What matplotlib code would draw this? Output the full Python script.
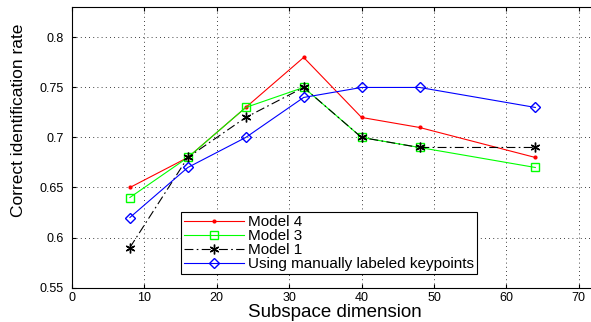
import numpy as np
import matplotlib
matplotlib.use("Agg")
import matplotlib.pyplot as plt

dims = [8, 16, 24, 32, 40, 48, 64]
model4 = [0.65, 0.68, 0.73, 0.78, 0.72, 0.71, 0.68]
model3 = [0.64, 0.68, 0.73, 0.75, 0.70, 0.69, 0.67]
model1 = [0.59, 0.68, 0.72, 0.75, 0.70, 0.69, 0.69]
manual = [0.62, 0.67, 0.70, 0.74, 0.75, 0.75, 0.73]

xticks = [0, 10, 20, 30, 40, 50, 60, 70]
yticks = [0.55, 0.6, 0.65, 0.7, 0.75, 0.8]
ytick_labels = ["0.55", "0.6", "0.65", "0.7", "0.75", "0.8"]

plt.rcParams['font.family'] = ['Liberation Sans', 'DejaVu Sans']

fig = plt.figure(figsize=(5.91, 3.22), dpi=100)
ax = fig.add_axes([0.1218, 0.107, 0.89, 0.87])

ax.plot(dims, model4, color='red', marker='.', markersize=4, linewidth=0.8, label='Model 4')
ax.plot(dims, model3, color='lime', marker='s', markersize=6, markerfacecolor='none',
        linewidth=0.8, label='Model 3')
ax.plot(dims, model1, color='black', marker=(6, 2, 0), markersize=7, markeredgewidth=1.0,
        linestyle=(0, (8, 3, 1.5, 3)), linewidth=0.8, label='Model 1')
ax.plot(dims, manual, color='blue', marker='D', markersize=5.5, markerfacecolor='none',
        linewidth=0.8, label='Using manually labeled keypoints')

ax.set_xlim(0, 72.65)
ax.set_ylim(0.55, 0.83)
ax.set_xticks(xticks)
ax.set_yticks(yticks)
ax.set_yticklabels(ytick_labels)
ax.tick_params(direction='in', labelsize=9, length=3, top=True, right=True)
ax.tick_params(axis='y', pad=6)
ax.spines['right'].set_visible(False)
ax.grid(True, color='black', linestyle=(0, (1, 4)), linewidth=0.6)

ax.set_xlabel('Subspace dimension', fontsize=13.5, labelpad=0)
ax.set_ylabel('Correct identification rate', fontsize=12.5)
ax.yaxis.set_label_coords(-0.088, 0.597)

leg = ax.legend(loc='lower left', bbox_to_anchor=(0.207, 0.048), borderaxespad=0,
                fontsize=11, fancybox=False, edgecolor='black', framealpha=1,
                handlelength=3.9, handletextpad=0.3, borderpad=0.2, labelspacing=0.0)
leg.get_frame().set_linewidth(0.8)

fig.savefig("out.png", dpi=100)
